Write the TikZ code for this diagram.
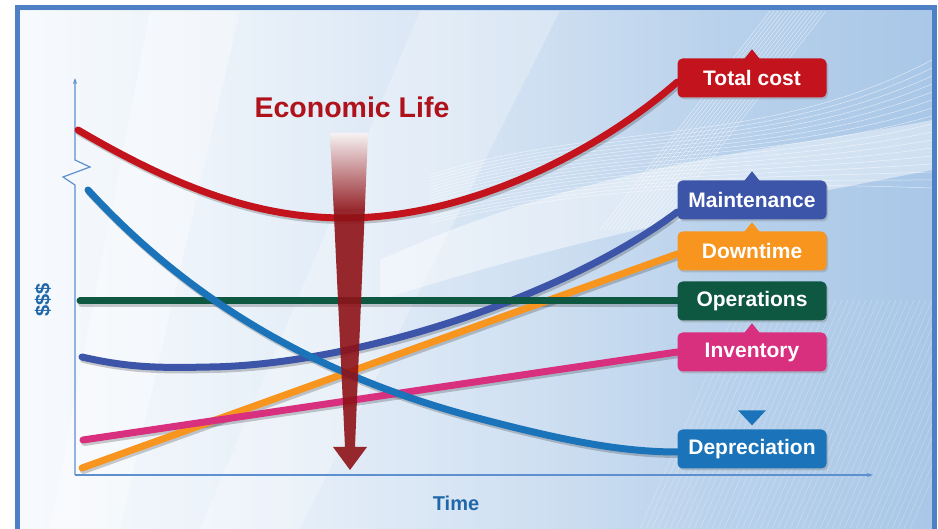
\documentclass[tikz,border=0pt]{standalone}
\usepackage{fontspec}
\setmainfont{Liberation Sans}
\usepackage{xcolor}
\usepackage{tikz}
\usetikzlibrary{arrows.meta,shadows,fadings}

\definecolor{costred}{HTML}{C3141D}
\definecolor{maintblue}{HTML}{3D55A8}
\definecolor{downorange}{HTML}{F7951E}
\definecolor{opsgreen}{HTML}{0E5741}
\definecolor{invpink}{HTML}{D8307F}
\definecolor{deprblue}{HTML}{1B74BA}
\definecolor{arrowred}{HTML}{8E1217}
\definecolor{axisblue}{HTML}{5E8FCF}
\definecolor{framecol}{HTML}{4D80C4}
\definecolor{txtblue}{HTML}{1F67A8}
\definecolor{bgl}{HTML}{EEF4FB}
\definecolor{bgr}{HTML}{A9C7E7}

\pgfdeclarelayer{bg}
\pgfdeclarelayer{plot}
\pgfsetlayers{bg,plot,main}

\begin{document}
\begin{tikzpicture}[x=1pt,y=-1pt,
  lbl/.style={rounded corners=5pt, minimum width=149pt, minimum height=39pt, inner sep=0pt, text=white,
    font=\fontsize{21}{21}\selectfont\bfseries, drop shadow={opacity=.35,shadow xshift=1.5pt,shadow yshift=-2pt}},
  curve/.style={line width=7pt, line cap=round},
  axis/.style={draw=axisblue, line width=1.2pt, -{Stealth[length=6pt,width=4pt]}},
  title/.style={text=#1, font=\fontsize{28.5}{28.5}\selectfont\bfseries},
  axlbl/.style={text=txtblue, font=\fontsize{20}{20}\selectfont\bfseries}]
\useasboundingbox (0,0) rectangle (938,529);

\begin{pgfonlayer}{bg}
\fill[white] (0,0) rectangle (938,529);
\begin{scope}
\clip (20,11) rectangle (932,529);
\shade[left color=bgl, right color=bgr] (20,11) rectangle (932,529);
\fill[white, opacity=.35] (150,11) -- (240,11) -- (120,529) -- (50,529) -- cycle;
\fill[white, opacity=.25] (420,11) -- (560,11) -- (300,529) -- (200,529) -- cycle;
\fill[white, opacity=.55, path fading=east] (20,11) rectangle (720,529);
\fill[white, opacity=.45] (380,260) .. controls (600,160) and (780,150) .. (932,120) -- (932,170) .. controls (780,200) and (600,230) .. (380,300) -- cycle;
\foreach \i in {0,...,16}
  \draw[white, opacity=.6, line width=.5pt] (430,175+\i*3) .. controls (600,120+\i*4) and (760,150+\i*2) .. (932,60+\i*8);
\foreach \i in {0,...,14}
  \draw[white, opacity=.55, line width=.5pt] (770+\i*4,11) -- (600+\i*4,230);
\foreach \i in {0,...,45}
  \draw[white, opacity=.35, line width=.4pt] (640+\i*6,529) -- (740+\i*6,300);
\end{scope}
\draw[framecol, line width=5pt] (17.5,8) rectangle (934.5,545);
\end{pgfonlayer}

\node[lbl, fill=costred] (tc) at (752,78) {Total cost};
\node[lbl, fill=maintblue] (mt) at (752,200) {Maintenance};
\node[lbl, fill=downorange] (dt) at (752,251) {Downtime};
\node[lbl, fill=opsgreen] (op) at (752,301) {Operations};
\node[lbl, fill=invpink] (inv) at (752,352) {Inventory};
\node[lbl, fill=deprblue] (dep) at (752,449) {Depreciation};
\foreach \n/\c in {tc/costred,mt/maintblue,dt/downorange,inv/invpink}
  \fill[\c] ([xshift=-8pt,yshift=-1pt]\n.north) -- ([yshift=9pt]\n.north) -- ([xshift=8pt,yshift=-1pt]\n.north) -- cycle;
\fill[deprblue] ([xshift=-14pt,yshift=19pt]dep.north) -- ([xshift=14pt,yshift=19pt]dep.north) -- ([yshift=4pt]dep.north) -- cycle;

\node[title=costred!90!black] (econ) at (352,107) {Economic Life};
\node[axlbl] (time) at (456,503) {Time};
\node[axlbl, rotate=90] (cur) at (43,300) {\$\$\$};

\begin{pgfonlayer}{plot}
\coordinate (o) at (75,475);
\coordinate (ytop) at (75,78);
\coordinate (xend) at (873,475);
\draw[axis] (o) -- (75,185) -- (63,177) -- (90,167) -- (75,160) -- (ytop);
\draw[axis] (o) -- (xend);

\coordinate (tc0) at (78,130);
\coordinate (mt0) at (82,357);
\coordinate (dt0) at (82,468);
\coordinate (op0) at (80,301);
\coordinate (inv0) at (83,440);
\coordinate (dep0) at (88,190);
\begin{scope}[black, opacity=.2, transform canvas={shift={(1.5pt,-2.5pt)}}]
\draw[curve] (tc0) .. controls (180,190) and (260,218) .. (345,218) .. controls (470,218) and (600,150) .. ([yshift=-4pt]tc.west);
\draw[curve] (mt0) .. controls (130,368) and (160,368) .. (210,367) .. controls (350,365) and (560,300) .. ([yshift=-12pt]mt.west);
\draw[curve] (dt0) -- ([yshift=-3pt]dt.west);
\draw[curve] (op0) -- (op.west);
\draw[curve] (inv0) -- (inv.west);
\draw[curve] (dep0) .. controls (180,290) and (300,370) .. (470,416) .. controls (560,440) and (620,452) .. ([yshift=-3pt]dep.west);
\end{scope}
\draw[curve, costred] (tc0) .. controls (180,190) and (260,218) .. (345,218) .. controls (470,218) and (600,150) .. ([yshift=-4pt]tc.west);
\draw[curve, maintblue] (mt0) .. controls (130,368) and (160,368) .. (210,367) .. controls (350,365) and (560,300) .. ([yshift=-12pt]mt.west);
\draw[curve, downorange] (dt0) -- ([yshift=-3pt]dt.west);
\draw[curve, opsgreen] (op0) -- (op.west);
\draw[curve, invpink] (inv0) -- (inv.west);
\draw[curve, deprblue] (dep0) .. controls (180,290) and (300,370) .. (470,416) .. controls (560,440) and (620,452) .. ([yshift=-3pt]dep.west);

\shade[top color=arrowred!5, bottom color=arrowred, opacity=.9] (330,133) -- (368,133) -- (364.8,210) -- (333.7,210) -- cycle;
\fill[arrowred, opacity=.9] (333.7,210) -- (345,447) -- (333,447) -- (350,470) -- (367,447) -- (355,447) -- (364.8,210) -- cycle;
\end{pgfonlayer}
\end{tikzpicture}
\end{document}
